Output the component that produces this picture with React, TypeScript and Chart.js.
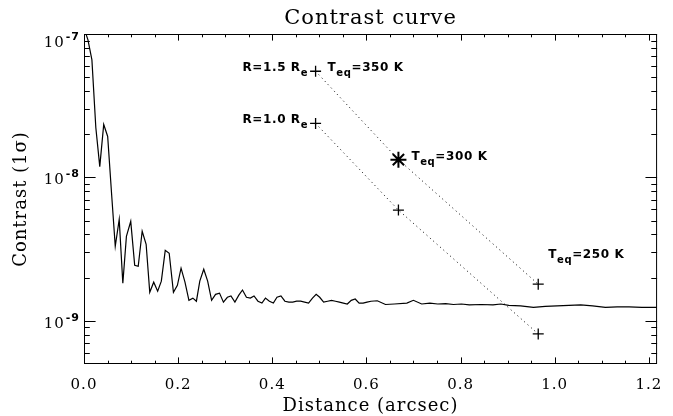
import { useEffect, useRef } from "react";
import { Chart, registerables } from "chart.js";

Chart.register(...registerables);

// contrast curve
const distance = [
  0.0, 0.0084, 0.0168, 0.0251, 0.0335, 0.0419, 0.0503, 0.0587, 0.0664, 0.0748,
  0.0825, 0.0901, 0.0993, 0.1077, 0.1152, 0.1236, 0.132, 0.1397, 0.1481, 0.1565,
  0.1643, 0.1726, 0.181, 0.19, 0.1984, 0.2062, 0.2145, 0.2229, 0.2313, 0.2388,
  0.246, 0.2544, 0.2627, 0.2711, 0.2795, 0.2879, 0.2962, 0.3046, 0.3122, 0.3206,
  0.3289, 0.3367, 0.3451, 0.3534, 0.3612, 0.3696, 0.378, 0.3855, 0.3939, 0.4023,
  0.41, 0.4184, 0.4268, 0.4352, 0.4435, 0.4519, 0.4603, 0.4687, 0.4771, 0.4854,
  0.4932, 0.5007, 0.5091, 0.5175, 0.5259, 0.5343, 0.5426, 0.551, 0.5594, 0.5678,
  0.5762, 0.5845, 0.5929, 0.6013, 0.6097, 0.6231, 0.6405, 0.6593, 0.6859, 0.6998,
  0.7174, 0.7348, 0.7515, 0.7683, 0.785, 0.8018, 0.8186, 0.8437, 0.8689, 0.8856,
  0.9024, 0.9275, 0.9548, 0.9799, 1.005, 1.0302, 1.0553, 1.0805, 1.1077, 1.1328,
  1.158, 1.1852, 1.2168,
];
const contrast = [
  1.1e-7, 9.1e-8, 6.6e-8, 2.23e-8, 1.19e-8, 2.34e-8, 1.93e-8, 7.6e-9, 3.31e-9, 5.1e-9,
  1.83e-9, 3.88e-9, 4.94e-9, 2.44e-9, 2.4e-9, 4.21e-9, 3.42e-9, 1.58e-9, 1.86e-9, 1.61e-9,
  1.89e-9, 3.1e-9, 2.96e-9, 1.58e-9, 1.77e-9, 2.33e-9, 1.86e-9, 1.39e-9, 1.44e-9, 1.37e-9,
  1.89e-9, 2.29e-9, 1.89e-9, 1.39e-9, 1.53e-9, 1.56e-9, 1.35e-9, 1.46e-9, 1.49e-9, 1.35e-9,
  1.51e-9, 1.64e-9, 1.46e-9, 1.44e-9, 1.49e-9, 1.37e-9, 1.33e-9, 1.44e-9, 1.37e-9, 1.33e-9,
  1.46e-9, 1.49e-9, 1.37e-9, 1.35e-9, 1.35e-9, 1.37e-9, 1.37e-9, 1.35e-9, 1.33e-9, 1.44e-9,
  1.53e-9, 1.46e-9, 1.35e-9, 1.37e-9, 1.39e-9, 1.37e-9, 1.35e-9, 1.33e-9, 1.31e-9, 1.39e-9,
  1.42e-9, 1.33e-9, 1.33e-9, 1.35e-9, 1.37e-9, 1.38e-9, 1.3e-9, 1.31e-9, 1.33e-9, 1.39e-9,
  1.31e-9, 1.33e-9, 1.31e-9, 1.32e-9, 1.3e-9, 1.31e-9, 1.29e-9, 1.3e-9, 1.29e-9, 1.31e-9,
  1.28e-9, 1.27e-9, 1.24e-9, 1.26e-9, 1.27e-9, 1.28e-9, 1.29e-9, 1.27e-9, 1.24e-9, 1.25e-9,
  1.25e-9, 1.24e-9, 1.24e-9,
];

// planet tracks (separation, contrast) for the two radii
const trackX = [0.492, 0.668, 0.965];
const track15 = [5.5e-8, 1.33e-8, 1.8e-9];
const track10 = [2.38e-8, 5.92e-9, 8.1e-10];
const teqLabels = ["350 K", "300 K", "250 K"];
const radiusLabels = ["1.5", "1.0"];

// axes
const xMajorTicks = [0, 0.2, 0.4, 0.6, 0.8, 1.0, 1.2];
const xMinorTicks = [
  0.05, 0.1, 0.15, 0.25, 0.3, 0.35, 0.45, 0.5, 0.55, 0.65, 0.7, 0.75, 0.85, 0.9, 0.95,
  1.05, 1.1, 1.15,
];
const yMajorTicks = [1e-9, 1e-8, 1e-7];
const yMajorExp = ["-9", "-8", "-7"];
const yMinorTicks = [
  6e-10, 7e-10, 8e-10, 9e-10, 2e-9, 3e-9, 4e-9, 5e-9, 6e-9, 7e-9, 8e-9, 9e-9, 2e-8, 3e-8,
  4e-8, 5e-8, 6e-8, 7e-8, 8e-8, 9e-8,
];

type Part = { t: string; sub?: boolean };

function drawRich(ctx: any, parts: Part[], x: number, y: number, align: "left" | "right") {
  const main = "bold 12px 'DejaVu Sans'";
  const small = "bold 10px 'DejaVu Sans'";
  ctx.letterSpacing = "0.6px";
  ctx.textAlign = "left";
  ctx.textBaseline = "alphabetic";
  const widths = parts.map((p) => {
    ctx.font = p.sub ? small : main;
    return ctx.measureText(p.t).width;
  });
  const total = widths.reduce((a, b) => a + b, 0);
  let cx = align === "right" ? x - total : x;
  parts.forEach((p, i) => {
    ctx.font = p.sub ? small : main;
    ctx.fillText(p.t, cx, p.sub ? y + 5 : y);
    cx += widths[i];
  });
}

const idlFrame = {
  id: "idlFrame",
  beforeDraw(chart: any) {
    chart.ctx.letterSpacing = "1px";
  },
  afterDatasetsDraw(chart: any) {
    const { ctx, chartArea: a, scales } = chart;
    const xs = scales.x;
    const ys = scales.y;
    ctx.save();
    ctx.strokeStyle = "#000";
    ctx.lineWidth = 1;
    ctx.strokeRect(a.left + 0.5, a.top + 0.5, a.right - a.left - 1, a.bottom - a.top - 1);
    ctx.beginPath();
    const xt = (v: number, len: number) => {
      const px = Math.round(xs.getPixelForValue(v)) + 0.5;
      ctx.moveTo(px, a.bottom);
      ctx.lineTo(px, a.bottom - len);
      ctx.moveTo(px, a.top);
      ctx.lineTo(px, a.top + len);
    };
    const yt = (v: number, len: number) => {
      const py = Math.round(ys.getPixelForValue(v)) + 0.5;
      ctx.moveTo(a.left, py);
      ctx.lineTo(a.left + len, py);
      ctx.moveTo(a.right, py);
      ctx.lineTo(a.right - len, py);
    };
    xMajorTicks.forEach((v) => xt(v, 6.6));
    xMinorTicks.forEach((v) => xt(v, 3.3));
    yMajorTicks.forEach((v) => yt(v, 11.6));
    yMinorTicks.forEach((v) => yt(v, 5.8));
    ctx.stroke();
    ctx.restore();
  },
  afterDraw(chart: any) {
    const { ctx, chartArea: a, scales } = chart;
    const xs = scales.x;
    const ys = scales.y;
    ctx.save();
    ctx.fillStyle = "#000";

    // log axis labels 10^n
    yMajorTicks.forEach((v, i) => {
      const py = ys.getPixelForValue(v);
      const base = Math.max(py + 7, a.top + 12.5);
      ctx.textAlign = "right";
      ctx.textBaseline = "alphabetic";
      ctx.letterSpacing = "1px";
      ctx.font = "bold 11px 'DejaVu Sans'";
      const right = a.left - 4;
      ctx.fillText(yMajorExp[i], right, base - 7);
      const ew = ctx.measureText(yMajorExp[i]).width;
      ctx.font = "15px 'DejaVu Serif'";
      ctx.fillText("10", right - ew - 1, base);
    });

    // track annotations
    const px = (v: number) => xs.getPixelForValue(v);
    const py = (v: number) => ys.getPixelForValue(v);
    [track15, track10].forEach((track, k) => {
      drawRich(ctx, [{ t: "R=" + radiusLabels[k] + " R" }, { t: "e", sub: true }], px(trackX[0]) - 7.5, py(track[0]), "right");
    });
    drawRich(ctx, [{ t: "T" }, { t: "eq", sub: true }, { t: "=" + teqLabels[0] }], px(trackX[0]) + 12, py(track15[0]), "left");
    drawRich(ctx, [{ t: "T" }, { t: "eq", sub: true }, { t: "=" + teqLabels[1] }], px(trackX[1]) + 13, py(track15[1]), "left");
    drawRich(ctx, [{ t: "T" }, { t: "eq", sub: true }, { t: "=" + teqLabels[2] }], px(trackX[2]) + 10, py(track15[2]) - 26, "left");
    ctx.restore();
  },
};

export default function App() {
  const ref = useRef<HTMLCanvasElement>(null);

  useEffect(() => {
    document.body.style.margin = "0";
    const canvas = ref.current;
    if (!canvas) return;

    const curve = distance.map((x, i) => ({ x, y: contrast[i] }));
    const line15 = trackX.map((x, i) => ({ x, y: track15[i] }));
    const line10 = trackX.map((x, i) => ({ x, y: track10[i] }));
    const pluses = [line15[0], line15[2], ...line10];
    const star = [line15[1]];

    const chart = new Chart(canvas, {
      type: "scatter",
      data: {
        datasets: [
          {
            data: curve,
            showLine: true,
            borderColor: "#000",
            borderWidth: 1.2,
            pointRadius: 0,
          },
          {
            data: line15,
            showLine: true,
            borderColor: "#000",
            borderWidth: 1,
            borderDash: [1, 3.5],
            pointRadius: 0,
          },
          {
            data: line10,
            showLine: true,
            borderColor: "#000",
            borderWidth: 1,
            borderDash: [1, 3.5],
            pointRadius: 0,
          },
          {
            data: pluses,
            pointStyle: "cross",
            pointRadius: 5.5,
            pointBorderWidth: 1.3,
            pointBorderColor: "#000",
          },
          {
            data: star,
            pointStyle: "star",
            pointRadius: 8,
            pointBorderWidth: 2,
            pointBorderColor: "#000",
          },
        ],
      },
      options: {
        animation: false,
        responsive: true,
        maintainAspectRatio: false,
        events: [],
        layout: { padding: { right: 8 } },
        plugins: {
          legend: { display: false },
          tooltip: { enabled: false },
          title: {
            display: true,
            text: "Contrast curve",
            color: "#000",
            fullSize: false,
            font: { family: "DejaVu Serif", size: 21, weight: "normal", lineHeight: 1.2 },
            padding: { top: 5.5, bottom: 3.3 },
          },
        },
        scales: {
          x: {
            type: "linear",
            min: 0,
            max: 1.2175,
            grid: { display: false, drawTicks: false },
            border: { display: false },
            afterBuildTicks: (s: any) => {
              s.ticks = xMajorTicks.map((value) => ({ value }));
            },
            afterFit: (s: any) => {
              s.height = 52;
            },
            ticks: {
              color: "#000",
              padding: 12,
              autoSkip: false,
              maxRotation: 0,
              font: { family: "DejaVu Serif", size: 15 },
              callback: (v: any) => Number(v).toFixed(1),
            },
            title: {
              display: true,
              text: "Distance (arcsec)",
              color: "#000",
              font: { family: "DejaVu Serif", size: 18, lineHeight: 1.1 },
              padding: { top: 0, bottom: 0 },
            },
          },
          y: {
            type: "logarithmic",
            min: 5e-10,
            max: 1e-7,
            grid: { display: false, drawTicks: false },
            border: { display: false },
            ticks: { display: false },
            afterFit: (s: any) => {
              s.width = 84;
            },
            title: {
              display: true,
              text: "Contrast (1σ)",
              color: "#000",
              font: { family: "DejaVu Serif", size: 18, lineHeight: 1.1 },
              padding: { top: 11, bottom: 0 },
            },
          },
        },
      },
      plugins: [idlFrame],
    });
    return () => chart.destroy();
  }, []);

  return (
    <div style={{ position: "relative", width: 673, height: 416 }}>
      <canvas ref={ref} />
    </div>
  );
}
